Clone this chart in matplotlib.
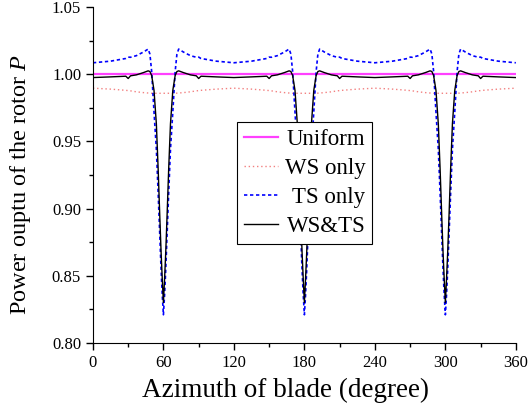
import matplotlib
matplotlib.use('Agg')
import matplotlib.pyplot as plt
from matplotlib.ticker import MultipleLocator, FormatStrFormatter

plt.rcParams['font.family'] = ['Liberation Serif', 'DejaVu Serif']
plt.rcParams['mathtext.fontset'] = 'custom'
plt.rcParams['mathtext.rm'] = 'Liberation Serif'
plt.rcParams['mathtext.it'] = 'Liberation Serif:italic'

# azimuth (degree)
azimuth = [0,
           15, 28, 30, 32, 37, 43, 47, 48.5, 50, 52, 54, 55.5, 57, 58, 59, 60,
           61, 62, 63, 64.5, 66, 68, 70, 71.5, 73, 77, 83, 88, 90, 92, 105,
           120,
           135, 148, 150, 152, 157, 163, 167, 168.5, 170, 172, 174, 175.5, 177, 178, 179, 180,
           181, 182, 183, 184.5, 186, 188, 190, 191.5, 193, 197, 203, 208, 210, 212, 225,
           240,
           255, 268, 270, 272, 277, 283, 287, 288.5, 290, 292, 294, 295.5, 297, 298, 299, 300,
           301, 302, 303, 304.5, 306, 308, 310, 311.5, 313, 317, 323, 328, 330, 332, 345,
           360]

uniform_x = [0, 360]
uniform = [1.000, 1.000]

ws_only = [0.9896,
           0.9889, 0.9880, 0.9878, 0.9876, 0.9869, 0.9863, 0.9860, 0.9859, 0.9858, 0.9858, 0.9858, 0.9858, 0.9858, 0.9858, 0.9858, 0.9858,
           0.9858, 0.9858, 0.9858, 0.9858, 0.9858, 0.9858, 0.9858, 0.9859, 0.9860, 0.9863, 0.9869, 0.9876, 0.9878, 0.9880, 0.9889,
           0.9896,
           0.9889, 0.9880, 0.9878, 0.9876, 0.9869, 0.9863, 0.9860, 0.9859, 0.9858, 0.9858, 0.9858, 0.9858, 0.9858, 0.9858, 0.9858, 0.9858,
           0.9858, 0.9858, 0.9858, 0.9858, 0.9858, 0.9858, 0.9858, 0.9859, 0.9860, 0.9863, 0.9869, 0.9876, 0.9878, 0.9880, 0.9889,
           0.9896,
           0.9889, 0.9880, 0.9878, 0.9876, 0.9869, 0.9863, 0.9860, 0.9859, 0.9858, 0.9858, 0.9858, 0.9858, 0.9858, 0.9858, 0.9858, 0.9858,
           0.9858, 0.9858, 0.9858, 0.9858, 0.9858, 0.9858, 0.9858, 0.9859, 0.9860, 0.9863, 0.9869, 0.9876, 0.9878, 0.9880, 0.9889,
           0.9896]

ts_only = [1.0085,
           1.0097, 1.0117, 1.0127, 1.0126, 1.0138, 1.0165, 1.0187, 1.0150, 1.0020, 0.9720, 0.9440, 0.9120, 0.8780, 0.8550, 0.8360, 0.8210,
           0.8360, 0.8550, 0.8780, 0.9120, 0.9440, 0.9720, 1.0020, 1.0150, 1.0187, 1.0165, 1.0138, 1.0126, 1.0127, 1.0117, 1.0097,
           1.0085,
           1.0097, 1.0117, 1.0127, 1.0126, 1.0138, 1.0165, 1.0187, 1.0150, 1.0020, 0.9720, 0.9440, 0.9120, 0.8780, 0.8550, 0.8360, 0.8210,
           0.8360, 0.8550, 0.8780, 0.9120, 0.9440, 0.9720, 1.0020, 1.0150, 1.0187, 1.0165, 1.0138, 1.0126, 1.0127, 1.0117, 1.0097,
           1.0085,
           1.0097, 1.0117, 1.0127, 1.0126, 1.0138, 1.0165, 1.0187, 1.0150, 1.0020, 0.9720, 0.9440, 0.9120, 0.8780, 0.8550, 0.8360, 0.8210,
           0.8360, 0.8550, 0.8780, 0.9120, 0.9440, 0.9720, 1.0020, 1.0150, 1.0187, 1.0165, 1.0138, 1.0126, 1.0127, 1.0117, 1.0097,
           1.0085]

ws_ts = [0.9975,
         0.9980, 0.9985, 0.9968, 0.9988, 0.9995, 1.0012, 1.0025, 1.0020, 0.9990, 0.9880, 0.9630, 0.9300, 0.8920, 0.8680, 0.8480, 0.8300,
         0.8480, 0.8680, 0.8920, 0.9300, 0.9630, 0.9880, 0.9990, 1.0020, 1.0025, 1.0012, 0.9995, 0.9988, 0.9968, 0.9985, 0.9980,
         0.9975,
         0.9980, 0.9985, 0.9968, 0.9988, 0.9995, 1.0012, 1.0025, 1.0020, 0.9990, 0.9880, 0.9630, 0.9300, 0.8920, 0.8680, 0.8480, 0.8300,
         0.8480, 0.8680, 0.8920, 0.9300, 0.9630, 0.9880, 0.9990, 1.0020, 1.0025, 1.0012, 0.9995, 0.9988, 0.9968, 0.9985, 0.9980,
         0.9975,
         0.9980, 0.9985, 0.9968, 0.9988, 0.9995, 1.0012, 1.0025, 1.0020, 0.9990, 0.9880, 0.9630, 0.9300, 0.8920, 0.8680, 0.8480, 0.8300,
         0.8480, 0.8680, 0.8920, 0.9300, 0.9630, 0.9880, 0.9990, 1.0020, 1.0025, 1.0012, 0.9995, 0.9988, 0.9968, 0.9985, 0.9980,
         0.9975]

fig = plt.figure(figsize=(5.28, 4.12), dpi=100)
ax = fig.add_axes([0.176, 0.1675, 0.801, 0.8155])

ax.plot(uniform_x, uniform, color='#ff40ff', lw=1.6, label='Uniform')
ax.plot(azimuth, ws_only, color='#f28080', lw=1.0, ls=(0, (1, 2)), label='WS only')
ax.plot(azimuth, ts_only, color='#0000ff', lw=1.2, ls=(0, (2, 1.6)), label='TS only')
ax.plot(azimuth, ws_ts, color='black', lw=1.0, label='WS&TS')

ax.set_xlim(0, 360)
ax.set_ylim(0.80, 1.05)
ax.xaxis.set_major_locator(MultipleLocator(60))
ax.xaxis.set_minor_locator(MultipleLocator(30))
ax.yaxis.set_major_locator(MultipleLocator(0.05))
ax.yaxis.set_minor_locator(MultipleLocator(0.025))
ax.yaxis.set_major_formatter(FormatStrFormatter('%.2f'))
ax.tick_params(which='major', direction='out', length=5, width=1, labelsize=12)
ax.tick_params(which='minor', direction='out', length=3, width=1)
for s in ['top', 'right']:
    ax.spines[s].set_visible(False)

ax.set_xlabel('Azimuth of blade (degree)', fontsize=19.5)
ax.set_ylabel('Power ouptu of the rotor $P$', fontsize=17.5)
ax.xaxis.set_label_coords(0.456, -0.105)
ax.yaxis.set_label_coords(-0.142, 0.47)

leg = ax.legend(loc='upper left', bbox_to_anchor=(0.340, 0.658), borderaxespad=0,
                fontsize=16.5, handlelength=1.5, labelspacing=0.35, borderpad=0.3,
                handletextpad=0.3, fancybox=False, framealpha=1, edgecolor='black')
leg.get_frame().set_linewidth(0.8)

# right-align the legend labels
fig.canvas.draw()
renderer = fig.canvas.get_renderer()
widths = [t.get_window_extent(renderer).width for t in leg.get_texts()]
wmax = max(widths)
for t, w in zip(leg.get_texts(), widths):
    t.set_position((wmax - w, 0))

fig.savefig('out.png', dpi=100)
